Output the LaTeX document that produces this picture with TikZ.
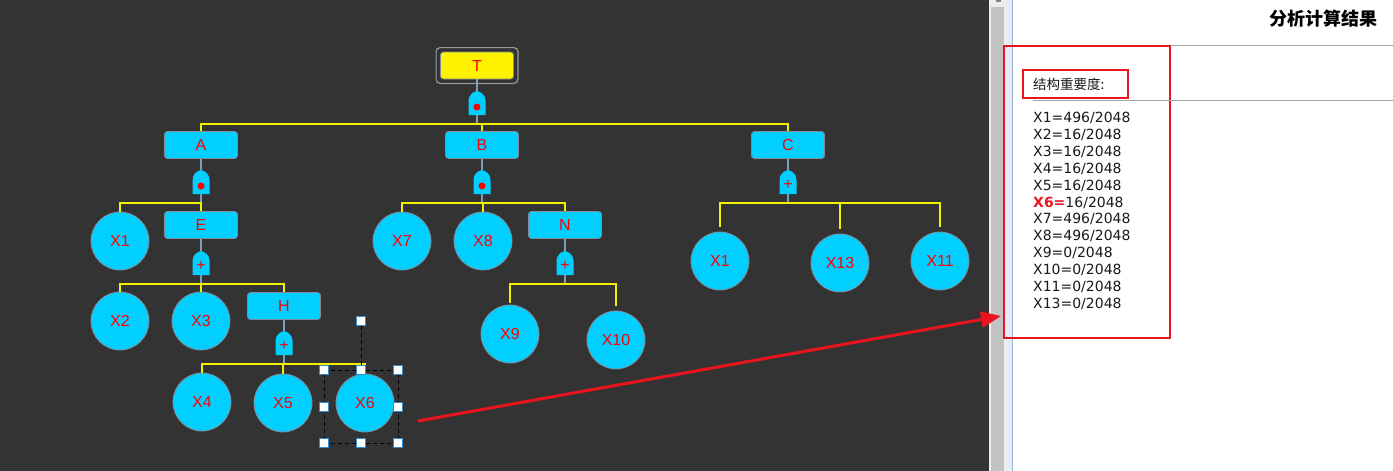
\documentclass[tikz,border=0pt]{standalone}
\usepackage{fontspec}
\setmainfont{Liberation Sans}
\newfontfamily\cjk{Noto Sans CJK SC}
\newfontfamily\dejavu{DejaVu Sans}
\usetikzlibrary{arrows.meta}
\definecolor{bgdark}{RGB}{51,51,51}
\definecolor{nodecyan}{RGB}{0,207,255}
\definecolor{edgegray}{RGB}{130,140,150}
\definecolor{stemgray}{RGB}{120,160,182}
\definecolor{baryellow}{RGB}{240,240,0}
\definecolor{markred}{RGB}{232,20,30}
\definecolor{handleblue}{RGB}{50,140,210}
\definecolor{scrollgray}{RGB}{194,194,194}
\definecolor{paneblue}{RGB}{228,236,248}
\definecolor{panelline}{RGB}{154,180,214}
\definecolor{listtext}{RGB}{26,26,26}

% gate body: name, x, top y
\newcommand{\gatebody}[3]{%
  \fill[nodecyan] (#2-8.5,#3+24) -- (#2-8.5,#3+10) .. controls (#2-8.5,#3+4) and (#2-4,#3+1) .. (#2,#3)
    .. controls (#2+4,#3+1) and (#2+8.5,#3+4) .. (#2+8.5,#3+10) -- (#2+8.5,#3+24) -- cycle;
  \node[gatebox] (#1) at (#2,#3+12) {};}
\newcommand{\andgate}[3]{\gatebody{#1}{#2}{#3}%
  \node[circle,fill=red,minimum size=7pt,inner sep=0pt] (#1d) at (#2,#3+16) {};}
\newcommand{\orgate}[3]{\gatebody{#1}{#2}{#3}%
  \node[text=red,font=\fontsize{16}{16}\selectfont,inner sep=0pt] (#1p) at (#2,#3+15) {+};}

\begin{document}
\begin{tikzpicture}[x=1pt,y=-1pt,>=Latex,
    evbox/.style={draw=edgegray,line width=0.8pt,fill=nodecyan,rounded corners=3pt,
      minimum width=73pt,minimum height=27pt,inner sep=0pt,text=red,font=\fontsize{16}{16}\selectfont},
    basic/.style={circle,draw=edgegray,line width=0.8pt,fill=nodecyan,minimum size=58pt,
      inner sep=0pt,text=red,font=\fontsize{16}{16}\selectfont},
    gatebox/.style={minimum width=17pt,minimum height=24pt,inner sep=0pt},
    stem/.style={stemgray,line width=2.5pt},
    bar/.style={baryellow,line width=2pt},
    handle/.style={draw=handleblue,fill=white,line width=1pt,minimum size=9pt,inner sep=0pt},
    rowtext/.style={anchor=west,inner sep=0pt,text=listtext,font=\dejavu\fontsize{14}{14}\selectfont}]
  \useasboundingbox (0,0) rectangle (1393,471);
  % canvas and scroll bar
  \fill[bgdark] (0,0) rectangle (989,471);
  \fill[white!93!black] (989,0) rectangle (1006,471);
  \fill[scrollgray] (991,7) rectangle (1004,471);
  \fill[gray] (996,0) rectangle (1001,1.5);
  \fill[paneblue] (1006,0) rectangle (1012,471);
  \draw[panelline,line width=1.2pt] (1012.5,0) -- (1012.5,471);
  \fill[white] (1013,0) rectangle (1393,471);

  % top event
  \node[evbox,fill=yellow] (T) at (477,65.5) {T};
  \draw[gray!80,line width=1.2pt,rounded corners=4pt] ([shift={(-4pt,4pt)}]T.north west) rectangle ([shift={(4pt,-4pt)}]T.south east);
  \andgate{gT}{477}{91}
  \node[evbox] (A) at (201,145) {A};
  \node[evbox] (B) at (482,145) {B};
  \node[evbox] (C) at (788,145) {C};
  \coordinate (bT) at (477,124);
  \draw[stem] (T) -- (gT);
  \draw[stem] (gT) -- (bT);
  \draw[bar] (A.north) |- (bT) -| (C.north);
  \draw[bar] (B.north) -- (B.north |- bT);

  % A
  \andgate{gA}{201}{170}
  \node[basic] (X1a) at (120,241) {X1};
  \node[evbox] (E) at (201,225) {E};
  \coordinate (bA) at (201,203);
  \draw[stem] (A) -- (gA);
  \draw[stem] (gA) -- (bA);
  \draw[bar] (X1a.north) |- (bA) -| (E.north);

  % E
  \orgate{gE}{201}{251}
  \node[basic] (X2) at (120,321) {X2};
  \node[basic] (X3) at (201,321) {X3};
  \node[evbox] (H) at (284,306) {H};
  \coordinate (bE) at (201,284);
  \draw[stem] (E) -- (gE);
  \draw[stem] (gE) -- (bE);
  \draw[bar] (X2.north) |- (bE) -| (H.north);
  \draw[bar] (X3.north) -- (bE);

  % H
  \orgate{gH}{284}{331}
  \node[basic] (X4) at (202,402) {X4};
  \node[basic] (X5) at (283,403) {X5};
  \node[basic] (X6) at (365,403) {X6};
  \coordinate (bH) at (284,364);
  \draw[stem] (H) -- (gH);
  \draw[stem] (gH) -- (bH);
  \draw[bar] (X4.north) |- (bH) -| (X6.north);
  \draw[bar] (X5.north) -- (X5.north |- bH);

  % B
  \andgate{gB}{482}{170}
  \node[basic] (X7) at (402,241) {X7};
  \node[basic] (X8) at (483,241) {X8};
  \node[evbox] (N) at (565,225) {N};
  \coordinate (bB) at (482,203);
  \draw[stem] (B) -- (gB);
  \draw[stem] (gB) -- (bB);
  \draw[bar] (X7.north) |- (bB) -| (N.north);
  \draw[bar] (X8.north) -- (X8.north |- bB);

  % N
  \orgate{gN}{565}{251}
  \node[basic] (X9) at (510,334) {X9};
  \node[basic] (X10) at (616,340) {X10};
  \coordinate (bN) at (565,284);
  \draw[stem] (N) -- (gN);
  \draw[stem] (gN) -- (bN);
  \draw[bar] ([yshift=2pt]X9.north) |- (bN) -| ([yshift=5pt]X10.north);

  % C
  \orgate{gC}{788}{170}
  \node[basic] (X1c) at (720,261) {X1};
  \node[basic] (X13) at (840,263) {X13};
  \node[basic] (X11) at (940,261) {X11};
  \coordinate (bC) at (788,203);
  \draw[stem] (C) -- (gC);
  \draw[stem] (gC) -- (bC);
  \draw[bar] ([yshift=5pt]X1c.north) |- (bC) -| ([yshift=5pt]X11.north);
  \draw[bar] ([yshift=5pt]X13.north) -- (X13.north |- bC);

  % selection of X6
  \node[draw,dash pattern=on 4pt off 3pt,line width=0.8pt,minimum width=74pt,minimum height=73pt,inner sep=0pt] (sel) at (361,406.5) {};
  \foreach \a/\n in {north west/nw,north/n,north east/ne,east/e,south east/se,south/s,south west/sw,west/w}
    \node[handle] (h\n) at (sel.\a) {};
  \node[handle] (hrot) at (361,321) {};
  \draw[dash pattern=on 4pt off 3pt,line width=0.8pt] (hrot) -- (hn);

  % pointer
  \coordinate (arS) at (418,421);
  \coordinate (arE) at (1001,316);
  \draw[markred,line width=3pt,-{Triangle[length=20pt,width=16pt]}] (arS) -- (arE);

  % result panel
  \node[anchor=east,inner sep=0pt,font=\cjk\bfseries\fontsize{18}{18}\selectfont] (title) at (1378,19) {分析计算结果};
  \draw[gray!70,line width=1pt] (1013,45) -- (1393,45);
  \node[draw=markred,line width=2pt,minimum width=166pt,minimum height=292pt,inner sep=0pt] (res) at (1087,192) {};
  \node[anchor=west,inner sep=0pt,text=listtext,font=\cjk\fontsize{13.5}{13.5}\selectfont] (head) at (1033,84) {结构重要度:};
  \node[draw=markred,line width=2pt,minimum width=105pt,minimum height=28pt,inner sep=0pt] (headbox) at (1075.5,84) {};
  \draw[gray!70,line width=1pt] (1033,100) -- (1393,100);
  \foreach \t [count=\i from 0] in {X1=496/2048,X2=16/2048,X3=16/2048,X4=16/2048,X5=16/2048,
      {\textcolor{markred}{\bfseries X6=}16/2048},X7=496/2048,X8=496/2048,X9=0/2048,
      X10=0/2048,X11=0/2048,X13=0/2048}
    \node[rowtext] (r\i) at (1033,118+16.9*\i) {\t};
\end{tikzpicture}
\end{document}
